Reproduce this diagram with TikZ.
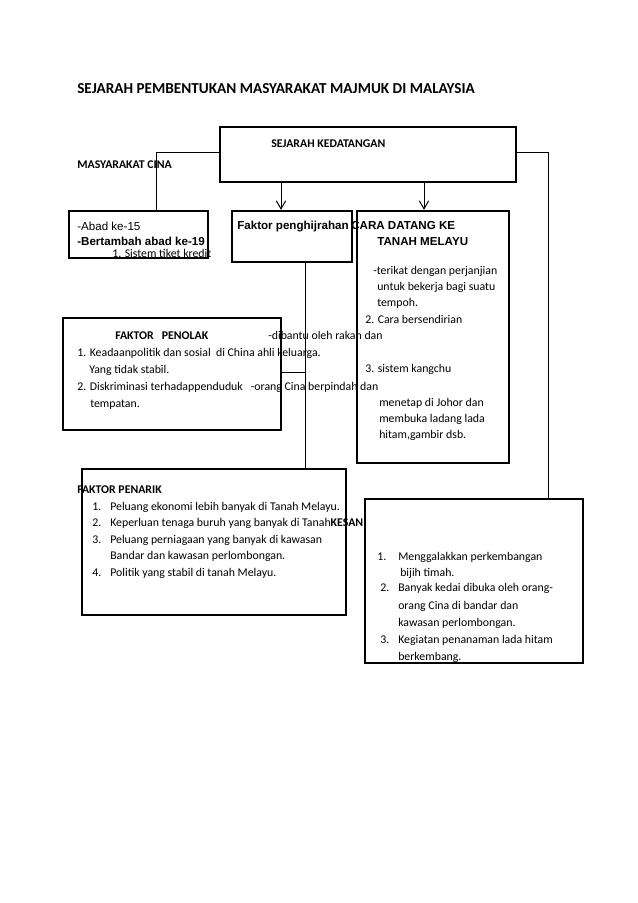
\documentclass[tikz,border=0pt]{standalone}
\usepackage{fontspec}
\setmainfont{Carlito}
\newfontfamily\arialf{Liberation Sans}
\usetikzlibrary{arrows.meta}
\begin{document}
\begin{tikzpicture}[x=0.75pt,y=-0.75pt,
  box/.style={draw, line width=1.8pt, inner sep=0pt},
  conn/.style={draw, line width=0.75pt},
  arr/.style={conn, -{Straight Barb[length=6pt,width=7pt]}},
  txt/.style={anchor=base west, inner sep=0pt, font=\fontsize{8.86}{10}\selectfont},
  btxt/.style={txt, font=\fontsize{8.86}{10}\selectfont\bfseries},
  atxt/.style={txt, font=\arialf\fontsize{8.7}{10}\selectfont},
  abtxt/.style={txt, font=\arialf\bfseries\fontsize{8.7}{10}\selectfont}]
\path[use as bounding box, fill=white] (0,0) rectangle (638,903);

% boxes
\node[box, minimum width=222pt, minimum height=41.25pt] (top) at (368,154.5) {};
\node[box, minimum width=104.25pt, minimum height=35.25pt] (abad) at (138.5,234.5) {};
\node[box, minimum width=90pt, minimum height=38.25pt] (faktor) at (292,236.5) {};
\node[box, minimum width=114pt, minimum height=189pt] (cara) at (433,337) {};
\node[box, minimum width=163.5pt, minimum height=84pt] (penolak) at (172,374) {};
\node[box, minimum width=198pt, minimum height=109.5pt] (penarik) at (214,542) {};
\node[box, minimum width=163.5pt, minimum height=123pt] (kesan) at (474,581) {};

% connectors
\coordinate (lj) at (156,152);
\coordinate (rj) at (548,152);
\coordinate (a1) at (281,182);
\coordinate (a2) at (424,182);
\coordinate (v) at (305,262);
\coordinate (h) at (305,372);
\draw[conn] (top.west |- lj) -- (lj) -- (lj |- abad.north);
\draw[conn] (top.east |- rj) -- (rj) -- (rj |- kesan.north);
\draw[arr] (top.south -| a1) -- (faktor.north -| a1);
\draw[arr] (top.south -| a2) -- (cara.north -| a2);
\draw[conn] (faktor.south -| v) -- (penarik.north -| v);
\draw[conn] (penolak.east |- h) -- (h);

% texts
\node[txt, font=\fontsize{11.4}{13}\selectfont\bfseries] (title) at (77,93) {SEJARAH PEMBENTUKAN MASYARAKAT MAJMUK DI MALAYSIA};
\node[btxt] (tk) at (271,147) {SEJARAH KEDATANGAN};
\node[btxt] (mc) at (77,168) {MASYARAKAT CINA};

\node[atxt] (ab1) at (77,230) {-Abad ke-15};
\node[abtxt] (ab2) at (77,245) {-Bertambah abad ke-19};
\node[txt] (ab3) at (112,257) {1. Sistem tiket kredit};

\node[abtxt] (fp) at (237,229) {Faktor penghijrahan};
\node[abtxt] (cd1) at (351,229) {CARA DATANG KE};
\node[abtxt] (cd2) at (377,245) {TANAH MELAYU};

\node[txt] (c1) at (373,274) {-terikat dengan perjanjian};
\node[txt] (c2) at (377,290) {untuk bekerja bagi suatu};
\node[txt] (c3) at (377,306) {tempoh.};
\node[txt] (c4) at (365,323) {2. Cara bersendirian};
\node[btxt] (pn0) at (115,339) {FAKTOR\ \ \ PENOLAK};
\node[txt] (c5) at (268,339) {-dibantu oleh rakan dan};
\node[txt] (pn1) at (77,356) {1. Keadaanpolitik dan sosial\ \ di China ahli keluarga.};
\node[txt] (pn2) at (89,373) {Yang tidak stabil.};
\node[txt] (c6) at (365,372) {3. sistem kangchu};
\node[txt] (pn3) at (77,390) {2. Diskriminasi terhadappenduduk\ \ \ -orang Cina berpindah dan};
\node[txt] (pn4) at (90,407) {tempatan.};
\node[txt] (c7) at (379,406) {menetap di Johor dan};
\node[txt] (c8) at (379,422) {membuka ladang lada};
\node[txt] (c9) at (379,438) {hitam,gambir dsb.};

\node[btxt] (pr0) at (77,493) {FAKTOR PENARIK};
\node[txt] (pr1n) at (92,510) {1.};
\node[txt] (pr1) at (110,510) {Peluang ekonomi lebih banyak di Tanah Melayu.};
\node[txt] (pr2n) at (92,526) {2.};
\node[txt] (pr2) at (110,526) {Keperluan tenaga buruh yang banyak di Tanah{\bfseries KESAN}};
\node[txt] (pr3n) at (92,543) {3.};
\node[txt] (pr3) at (110,543) {Peluang perniagaan yang banyak di kawasan};
\node[txt] (pr3b) at (110,559) {Bandar dan kawasan perlombongan.};
\node[txt] (pr4n) at (92,576) {4.};
\node[txt] (pr4) at (110,576) {Politik yang stabil di tanah Melayu.};

\node[txt] (k1n) at (377,560) {1.};
\node[txt] (k1) at (398,560) {Menggalakkan perkembangan};
\node[txt] (k1b) at (400,576) {bijih timah.};
\node[txt] (k2n) at (380,591) {2.};
\node[txt] (k2) at (398,591) {Banyak kedai dibuka oleh orang-};
\node[txt] (k2b) at (398,609) {orang Cina di bandar dan};
\node[txt] (k2c) at (398,626) {kawasan perlombongan.};
\node[txt] (k3n) at (380,643) {3.};
\node[txt] (k3) at (398,643) {Kegiatan penanaman lada hitam};
\node[txt] (k3b) at (398,660) {berkembang.};
\end{tikzpicture}
\end{document}
